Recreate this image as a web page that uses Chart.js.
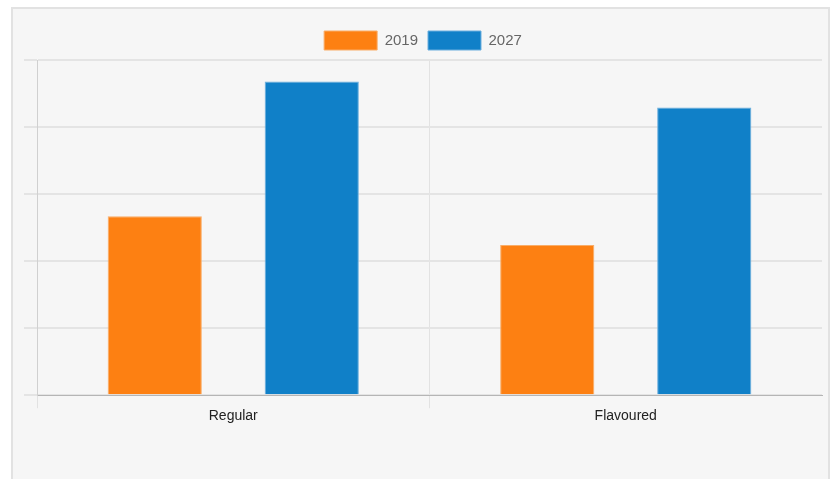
<!DOCTYPE html>
<html lang="en">
<head>
    <meta charset="UTF-8">
    <title>Regular vs Flavoured</title>
    <style>
        html, body { margin: 0; padding: 0; background: #fff; }
        /* marco gris claro detrás del gráfico */
        .panel {
            position: absolute;
            left: 11px;
            top: 7px;
            width: 815px;
            height: 480px;
            border: 2px solid #e2e2e2;
            background: #f6f6f6;
        }
        .chart-wrap {
            position: absolute;
            left: 0;
            top: 0;
            width: 839px;
            height: 479px;
        }
    </style>
</head>
<body>
    <div class="panel"></div>
    <div class="chart-wrap"><canvas id="chart"></canvas></div>

    <script src="https://cdn.jsdelivr.net/npm/chart.js@4/dist/chart.umd.min.js"></script>
    <script>
        // datos (escala sin etiquetas, 0 a 5)
        const categories = ['Regular', 'Flavoured'];
        const seriesNames = ['2019', '2027'];
        const values2019 = [2.67, 2.24];
        const values2027 = [4.68, 4.29];
        const yTicks = [0, 1, 2, 3, 4, 5];

        const fontFamily = "'Liberation Sans', Arial, sans-serif";

        const ctx = document.getElementById('chart').getContext('2d');
        new Chart(ctx, {
            type: 'bar',
            data: {
                labels: categories,
                datasets: [
                    {
                        label: seriesNames[0],
                        data: values2019,
                        backgroundColor: '#fd8012',
                        borderColor: '#f9ad68',
                        borderWidth: 1,
                    },
                    {
                        label: seriesNames[1],
                        data: values2027,
                        backgroundColor: '#1080c8',
                        borderColor: '#6aaede',
                        borderWidth: 1,
                    },
                ],
            },
            options: {
                responsive: true,
                maintainAspectRatio: false,
                animation: false,
                categoryPercentage: 0.8,
                barPercentage: 0.6,
                layout: {
                    padding: { left: 24, right: 17, top: 21, bottom: 54 },
                },
                scales: {
                    x: {
                        grid: {
                            color: c => c.tick ? '#e2e2e2' : 'transparent',
                            lineWidth: 1,
                            tickLength: 13,
                        },
                        border: { color: '#b5b5b5', width: 1 },
                        ticks: {
                            color: '#222',
                            font: { family: fontFamily, size: 14 },
                            padding: 0,
                        },
                    },
                    y: {
                        min: yTicks[0],
                        max: yTicks[yTicks.length - 1],
                        ticks: { display: false, stepSize: 1 },
                        grid: {
                            color: '#e4e4e4',
                            lineWidth: 2,
                            tickLength: 13,
                        },
                        border: { color: '#d0d0d0', width: 1 },
                    },
                },
                plugins: {
                    legend: {
                        display: true,
                        position: 'top',
                        labels: {
                            boxWidth: 53,
                            boxHeight: 19,
                            padding: 10,
                            color: '#666',
                            font: { family: fontFamily, size: 15 },
                        },
                    },
                    tooltip: { enabled: false },
                },
            },
        });
    </script>
</body>
</html>
